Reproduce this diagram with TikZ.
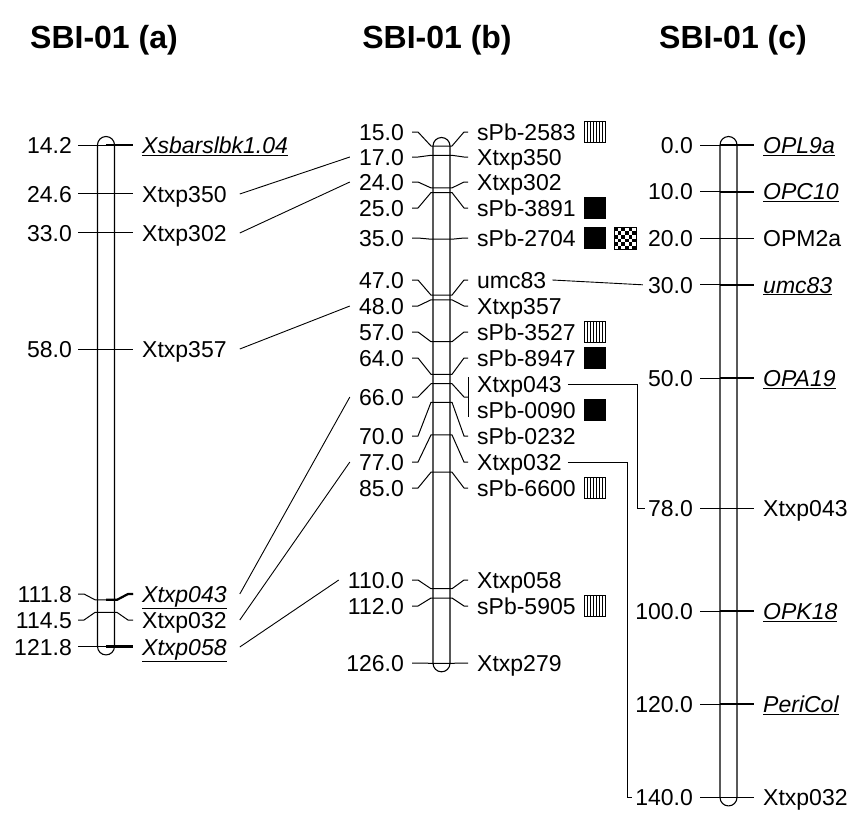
\documentclass[tikz,border=0pt]{standalone}
\usepackage{fontspec}
\setmainfont{Liberation Sans}
\newcommand{\hatchbx}[1]{%
  \draw[line width=0.8pt] (584,#1-10.5) rectangle (605,#1+10.5);
  \foreach \k in {1,...,6} \draw[line width=0.6pt] (584+3*\k,#1-10.5) -- (584+3*\k,#1+10.5);}
\newcommand{\blackbx}[1]{%
  \draw[line width=0.8pt, fill=black] (584,#1-10.5) rectangle (605,#1+10.5);}
\newcommand{\bentL}[3]{%
  \draw[tk] (412,#1) -- (418,#1) -- (431,#2) -- (452,#2) -- (464,#3) -- (468,#3);}
\begin{document}
\begin{tikzpicture}[x=1pt,y=-1pt,
  lab/.style={font=\fontsize{23}{23}\selectfont, inner sep=0pt, text height=16.5pt, text depth=0pt},
  ttl/.style={font=\fontsize{32}{32}\selectfont\bfseries, inner sep=0pt},
  chromo/.style={line width=1.1pt, fill=white},
  tk/.style={line width=1pt},
  thk/.style={line width=2.2pt},
  lnk/.style={line width=0.9pt}]
\useasboundingbox (0,0) rectangle (850,812);

% titles
\node[ttl] (ta) at (104,40) {SBI-01 (a)};
\node[ttl] (tb) at (437,40) {SBI-01 (b)};
\node[ttl] (tc) at (733,40) {SBI-01 (c)};

% chromosomes
\draw[chromo] (97.5,646.4) -- (97.5,145) arc[start angle=180,end angle=360,radius=8.5] -- (114.5,646.4) arc[start angle=0,end angle=180,radius=8.5] -- cycle;
\draw[chromo] (433,663.3) -- (433,146) arc[start angle=180,end angle=360,radius=8.5] -- (450,663.3) arc[start angle=0,end angle=180,radius=8.5] -- cycle;
\draw[chromo] (720,797.4) -- (720,145) arc[start angle=180,end angle=360,radius=8.5] -- (737,797.4) arc[start angle=0,end angle=180,radius=8.5] -- cycle;

% ---------- chromosome (a)
\foreach \y/\l in {145/14.2, 194/24.6, 233/33.0, 349/58.0, 594/111.8, 620/114.5, 647/121.8}
  \node[lab, anchor=east] at (72,\y) {\l};
\node[lab, anchor=west] (ra1) at (142,145) {\underline{\textit{Xsbarslbk1.04}}};
\node[lab, anchor=west] (ra2) at (142,194) {Xtxp350};
\node[lab, anchor=west] (ra3) at (142,233) {Xtxp302};
\node[lab, anchor=west] (ra4) at (142,349) {Xtxp357};
\node[lab, anchor=west] (ra5) at (142,594) {\underline{\textit{Xtxp043}}};
\node[lab, anchor=west] (ra6) at (142,620) {Xtxp032};
\node[lab, anchor=west] (ra7) at (142,647) {\underline{\textit{Xtxp058}}};
\draw[tk] (78,145) -- (133,145);
\draw[thk] (106,145) -- (133,145);
\draw[tk] (78,193.5) -- (133,193.5);
\draw[tk] (78,232.6) -- (133,232.6);
\draw[tk] (78,349.1) -- (133,349.1);
\draw[tk] (78,594) -- (84,594) -- (95,599.8) -- (117,599.8) -- (128,594) -- (133,594);
\draw[thk] (106,599.8) -- (117,599.8) -- (128,594) -- (133,594);
\draw[tk] (78,620) -- (84,620) -- (95,612.4) -- (117,612.4) -- (128,620) -- (133,620);
\draw[tk] (78,646.4) -- (133,646.4);
\draw[thk] (106,646.4) -- (133,646.4);

% ---------- chromosome (b)
\node[lab, anchor=east] (lb1) at (404,132) {15.0};
\node[lab, anchor=east] (lb2) at (404,157) {17.0};
\node[lab, anchor=east] (lb3) at (404,182) {24.0};
\node[lab, anchor=east] (lb4) at (404,208) {25.0};
\node[lab, anchor=east] (lb5) at (404,238) {35.0};
\node[lab, anchor=east] (lb6) at (404,280) {47.0};
\node[lab, anchor=east] (lb7) at (404,306) {48.0};
\node[lab, anchor=east] (lb8) at (404,332) {57.0};
\node[lab, anchor=east] (lb9) at (404,358) {64.0};
\node[lab, anchor=east] (lb10) at (404,397) {66.0};
\node[lab, anchor=east] (lb11) at (404,436) {70.0};
\node[lab, anchor=east] (lb12) at (404,462) {77.0};
\node[lab, anchor=east] (lb13) at (404,488) {85.0};
\node[lab, anchor=east] (lb14) at (404,580) {110.0};
\node[lab, anchor=east] (lb15) at (404,606) {112.0};
\node[lab, anchor=east] (lb16) at (404,663) {126.0};

\node[lab, anchor=west] (rb1) at (477,132) {sPb-2583};
\node[lab, anchor=west] (rb2) at (477,157) {Xtxp350};
\node[lab, anchor=west] (rb3) at (477,182) {Xtxp302};
\node[lab, anchor=west] (rb4) at (477,208) {sPb-3891};
\node[lab, anchor=west] (rb5) at (477,238) {sPb-2704};
\node[lab, anchor=west] (rb6) at (477,280) {umc83};
\node[lab, anchor=west] (rb7) at (477,306) {Xtxp357};
\node[lab, anchor=west] (rb8) at (477,332) {sPb-3527};
\node[lab, anchor=west] (rb9) at (477,358) {sPb-8947};
\node[lab, anchor=west] (rb10) at (477,384) {Xtxp043};
\node[lab, anchor=west] (rb11) at (477,410) {sPb-0090};
\node[lab, anchor=west] (rb12) at (477,436) {sPb-0232};
\node[lab, anchor=west] (rb13) at (477,462) {Xtxp032};
\node[lab, anchor=west] (rb14) at (477,488) {sPb-6600};
\node[lab, anchor=west] (rb15) at (477,580) {Xtxp058};
\node[lab, anchor=west] (rb16) at (477,606) {sPb-5905};
\node[lab, anchor=west] (rb17) at (477,663) {Xtxp279};

\bentL{132}{146}{132}
\bentL{157}{155.3}{157}
\bentL{182}{187.9}{182}
\bentL{208}{192.6}{208}
\bentL{238}{239.2}{238}
\bentL{280}{295.1}{280}
\bentL{306}{299.8}{306}
\bentL{332}{341.7}{332}
\bentL{358}{374.3}{358}
\bentL{397}{383.7}{397}
\bentL{436}{402.3}{436}
\bentL{462}{434.9}{462}
\bentL{488}{472.2}{488}
\bentL{580}{588.7}{580}
\bentL{606}{598}{606}
\bentL{663}{663.3}{663}
\draw[tk] (468,377) -- (468,417);

% marker boxes
\hatchbx{132}
\blackbx{208}
\blackbx{238}
\hatchbx{332}
\blackbx{358}
\blackbx{410}
\hatchbx{488}
\hatchbx{606}
\foreach \i in {0,...,5}
  \foreach \j in {0,...,5} {
    \pgfmathtruncatemacro\cs{mod(\i+\j,2)}
    \ifnum\cs=0 \fill (614+\i*3.667,227.5+\j*3.667) rectangle ++(3.667,3.667); \fi
  }
\draw[line width=0.8pt] (614,227.5) rectangle (636,249.5);

% ---------- chromosome (c)
\node[lab, anchor=east] (lc1) at (693,145) {0.0};
\node[lab, anchor=east] (lc2) at (693,191.6) {10.0};
\node[lab, anchor=east] (lc3) at (693,238.2) {20.0};
\node[lab, anchor=east] (lc4) at (693,284.8) {30.0};
\node[lab, anchor=east] (lc5) at (693,378) {50.0};
\node[lab, anchor=east] (lc6) at (693,508.5) {78.0};
\node[lab, anchor=east] (lc7) at (693,611) {100.0};
\node[lab, anchor=east] (lc8) at (693,704) {120.0};
\node[lab, anchor=east] (lc9) at (693,797.4) {140.0};

\node[lab, anchor=west] (rc1) at (763,145) {\underline{\textit{OPL9a}}};
\node[lab, anchor=west] (rc2) at (763,191.6) {\underline{\textit{OPC10}}};
\node[lab, anchor=west] (rc3) at (763,238.2) {OPM2a};
\node[lab, anchor=west] (rc4) at (763,284.8) {\underline{\textit{umc83}}};
\node[lab, anchor=west] (rc5) at (763,378) {\underline{\textit{OPA19}}};
\node[lab, anchor=west] (rc6) at (763,508.5) {Xtxp043};
\node[lab, anchor=west] (rc7) at (763,611) {\underline{\textit{OPK18}}};
\node[lab, anchor=west] (rc8) at (763,704) {\underline{\textit{PeriCol}}};
\node[lab, anchor=west] (rc9) at (763,797.4) {Xtxp032};

\foreach \y in {145,191.6,238.2,284.8,378,508.5,611,704,797.4}
  \draw[tk] (700,\y) -- (754,\y);
\foreach \y in {145,191.6,284.8,378,611,704}
  \draw[thk] (720,\y) -- (754,\y);

% ---------- links (a) -> (b)
\draw[lnk] ([xshift=13pt]ra2.east) -- ([xshift=-9pt]lb2.west);
\draw[lnk] ([xshift=13pt]ra3.east) -- ([xshift=-9pt]lb3.west);
\draw[lnk] ([xshift=13pt]ra4.east) -- ([xshift=-9pt]lb7.west);
\draw[lnk] ([xshift=13pt]ra5.east) -- ([xshift=-9pt]lb10.west);
\draw[lnk] ([xshift=13pt]ra6.east) -- ([xshift=-9pt]lb12.west);
\draw[lnk] ([xshift=13pt]ra7.east) -- ([xshift=-9pt]lb14.west);

% ---------- links (b) -> (c)
\draw[lnk] ([xshift=6pt]rb6.east) -- ([xshift=-5pt]lc4.west);
\draw[lnk] ([xshift=6pt]rb10.east) -- (637,384) -- (637,508.5) -- ([xshift=-3pt]lc6.west);
\draw[lnk] ([xshift=6pt]rb13.east) -- (627,462) -- (627,797.4) -- ([xshift=-3pt]lc9.west);
\end{tikzpicture}
\end{document}
